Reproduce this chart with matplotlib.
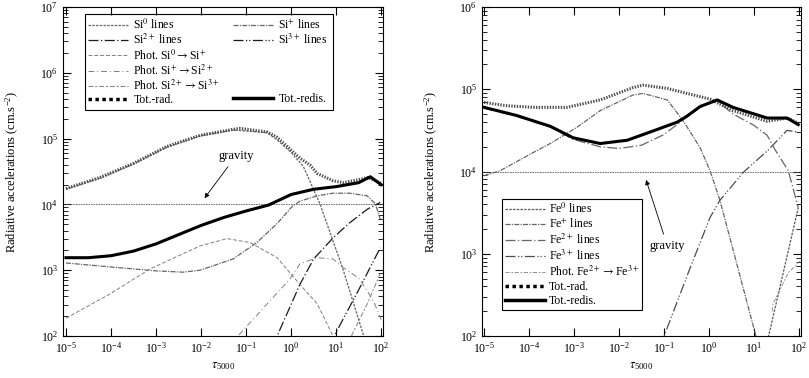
import numpy as np
import matplotlib
matplotlib.use('Agg')
import matplotlib.pyplot as plt
from matplotlib.lines import Line2D
from matplotlib.patches import Rectangle
from matplotlib.ticker import LogLocator, NullLocator, NullFormatter, LogFormatterSciNotation

plt.rcParams['font.family'] = ['Liberation Serif', 'DejaVu Serif']
plt.rcParams['mathtext.fontset'] = 'stix'
plt.rcParams['font.size'] = 8

# ---- Si panel (log10 tau, log10 g_rad) ----
si_rad_t = [-5.0, -4.24, -3.51, -2.76, -2.02, -1.29, -1.13, -0.53, -0.31, 0.2, 0.42, 0.58, 0.93, 1.16, 1.53, 1.71, 2.0]
si_rad_g = [4.24, 4.41, 4.62, 4.88, 5.05, 5.14, 5.155, 5.10, 5.02, 4.70, 4.60, 4.47, 4.36, 4.33, 4.38, 4.41, 4.32]
si_redis_t = [-5.0, -4.5, -4.0, -3.5, -3.0, -2.5, -2.0, -1.5, -1.0, -0.5, 0.0, 0.5, 1.0, 1.5, 1.76, 2.0]
si_redis_g = [3.19, 3.19, 3.22, 3.29, 3.40, 3.54, 3.68, 3.80, 3.90, 3.99, 4.15, 4.23, 4.27, 4.33, 4.42, 4.30]
si0_t = [-5.0, -4.24, -3.51, -2.76, -2.02, -1.29, -0.53, -0.31, 0.0, 0.27, 0.64, 1.16, 1.6, 1.7]
si0_g = [4.23, 4.40, 4.61, 4.87, 5.04, 5.13, 5.09, 4.98, 4.79, 4.58, 4.01, 3.0, 2.03, 1.85]
si1_t = [-5.0, -4.02, -3.0, -2.4, -2.02, -1.29, -0.76, -0.31, 0.04, 0.2, 0.58, 0.93, 1.3, 1.69, 1.87, 1.98]
si1_g = [3.11, 3.05, 2.99, 2.97, 3.0, 3.17, 3.42, 3.71, 3.98, 4.05, 4.13, 4.17, 4.17, 4.13, 4.01, 3.78]
si2_t = [-0.4, -0.31, 0.2, 0.5, 0.93, 1.3, 1.7, 1.98]
si2_g = [1.85, 2.0, 2.79, 3.17, 3.49, 3.72, 3.93, 4.03]
si3_t = [0.9, 0.98, 1.5, 1.98]
si3_g = [1.85, 2.03, 2.7, 3.34]
ph01_t = [-5.0, -4.02, -3.13, -2.02, -1.42, -0.91, -0.31, 0.2, 0.58, 0.91, 1.0]
ph01_g = [2.27, 2.64, 3.02, 3.37, 3.48, 3.42, 3.19, 2.78, 2.49, 2.03, 1.85]
ph12_t = [-1.3, -1.18, -0.53, -0.02, 0.2, 0.58, 0.93, 1.16, 1.5, 1.69, 1.85, 2.0]
ph12_g = [1.85, 2.0, 2.49, 2.87, 3.1, 3.19, 3.17, 3.04, 2.88, 2.69, 2.5, 2.25]
ph23_t = [1.25, 1.36, 1.7, 1.98]
ph23_g = [1.85, 2.03, 2.5, 2.95]

# ---- Fe panel ----
fe_rad_t = [-5.0, -4.5, -3.91, -3.16, -2.42, -1.69, -1.47, -0.93, -0.42, 0.02, 0.53, 1.29, 1.73, 1.98]
fe_rad_g = [4.84, 4.80, 4.78, 4.78, 4.87, 5.02, 5.05, 5.01, 4.94, 4.88, 4.74, 4.61, 4.65, 4.59]
fe_redis_t = [-5.0, -4.27, -3.53, -3.02, -2.42, -1.82, -1.31, -0.71, -0.5, -0.2, 0.18, 0.53, 1.29, 1.73, 1.98]
fe_redis_g = [4.78, 4.68, 4.55, 4.41, 4.34, 4.38, 4.48, 4.60, 4.67, 4.79, 4.87, 4.78, 4.65, 4.65, 4.57]
fe0_t = [1.25, 1.33, 1.58, 1.98]
fe0_g = [1.85, 2.02, 2.61, 3.56]
fe1_t = [-5.0, -4.64, -3.91, -3.53, -2.93, -2.42, -1.69, -1.47, -0.93, -0.58, -0.2, 0.02, 0.24, 1.04, 1.1]
fe1_g = [3.95, 4.01, 4.23, 4.34, 4.54, 4.74, 4.93, 4.95, 4.87, 4.62, 4.29, 4.01, 3.65, 2.0, 1.9]
fe2_t = [-5.0, -4.27, -3.53, -3.02, -2.42, -2.0, -1.5, -1.0, -0.5, -0.2, 0.18, 0.53, 1.0, 1.29, 1.47, 1.76, 1.98]
fe2_g = [4.77, 4.67, 4.54, 4.39, 4.30, 4.28, 4.32, 4.45, 4.66, 4.78, 4.86, 4.70, 4.56, 4.44, 4.26, 4.01, 3.56]
fe3_t = [-1.1, -1.0, -0.42, 0.02, 0.24, 0.76, 1.31, 1.73, 1.98]
fe3_g = [1.86, 2.0, 2.83, 3.44, 3.65, 3.99, 4.26, 4.5, 4.48]
ph_fe_t = [1.40, 1.42, 1.76, 2.02]
ph_fe_g = [2.30, 2.39, 2.77, 2.91]

gravity = 1e4
x_ticks = [1e-5, 1e-4, 1e-3, 1e-2, 1e-1, 1e0, 1e1, 1e2]
y_ticks_si = [1e2, 1e3, 1e4, 1e5, 1e6, 1e7]
y_ticks_fe = [1e2, 1e3, 1e4, 1e5, 1e6]


def p(ax, t, g, **kw):
    return ax.plot(10 ** np.array(t), 10 ** np.array(g), **kw)[0]


def style_axes(ax, yticks, xmin):
    ax.set_xscale('log')
    ax.set_yscale('log')
    ax.set_xlim(xmin, 110)
    ax.set_ylim(yticks[0], yticks[-1])
    ax.set_xticks(x_ticks)
    ax.set_yticks(yticks)
    ax.xaxis.set_major_formatter(LogFormatterSciNotation())
    ax.yaxis.set_major_formatter(LogFormatterSciNotation())
    ax.xaxis.set_minor_locator(NullLocator())
    ax.yaxis.set_minor_locator(LogLocator(base=10, subs=np.arange(2, 10), numticks=20))
    ax.yaxis.set_minor_formatter(NullFormatter())
    ax.tick_params(which='both', direction='in', top=True, right=True, labelsize=8.5)
    ax.tick_params(which='major', length=6, width=0.8)
    ax.tick_params(which='minor', length=3.5, width=0.6)
    for s in ax.spines.values():
        s.set_linewidth(0.8)
    ax.set_xlabel(r'$\tau_{\mathregular{5000}}$', fontsize=9, labelpad=3)
    ax.set_ylabel(r'Radiative accelerations (cm.s$^{\mathregular{-2}}$)', fontsize=9, labelpad=14)
    ax.axhline(gravity, color='0.35', lw=0.6, ls=(0, (2, 1)))


fig = plt.figure(figsize=(8.09, 3.78), dpi=100)
ax1 = fig.add_axes([63 / 809, 42 / 378, 320 / 809, 329 / 378])
ax2 = fig.add_axes([482 / 809, 42 / 378, 319 / 809, 329 / 378])

# ---- left: silicon ----
style_axes(ax1, y_ticks_si, 8.6e-6)
l_si0 = p(ax1, si0_t, si0_g, color='0.4', lw=0.9, ls=(0, (2, 1)), label=r'Si$^{0}$ lines')
l_si1 = p(ax1, si1_t, si1_g, color='0.4', lw=0.9, ls=(0, (4, 1, 1, 1)), label=r'Si$^{+}$ lines')
l_si2 = p(ax1, si2_t, si2_g, color='0.1', lw=0.9, ls=(0, (8, 2, 1, 2)), label=r'Si$^{2+}$ lines')
l_si3 = p(ax1, si3_t, si3_g, color='0.1', lw=0.9, ls=(0, (8, 2, 1, 1.5, 1, 2)), label=r'Si$^{3+}$ lines')
l_p01 = p(ax1, ph01_t, ph01_g, color='0.5', lw=0.7, ls=(0, (4, 2)), label=r'Phot. Si$^{0}$$\rightarrow$Si$^{+}$')
l_p12 = p(ax1, ph12_t, ph12_g, color='0.5', lw=0.7, ls=(0, (6, 3, 1, 3)), label=r'Phot. Si$^{+}$$\rightarrow$Si$^{2+}$')
l_p23 = p(ax1, ph23_t, ph23_g, color='0.5', lw=0.7, ls=(0, (5, 2, 2, 2)), label=r'Phot. Si$^{2+}$$\rightarrow$Si$^{3+}$')
p(ax1, si_rad_t, si_rad_g, color='0.3', lw=2.2, ls=(0, (0.45, 0.45)))
p(ax1, si_redis_t, si_redis_g, color='black', lw=2.2)

rad_proxy = Line2D([], [], color='black', lw=2.5, ls=(0, (1, 1)), label='Tot.-rad.')
redis_proxy = Line2D([], [], color='black', lw=2.5, label='Tot.-redis.')
blank = Line2D([], [], color='none')

ax1.add_patch(Rectangle((22 / 320, 225 / 328), 248 / 320, 96 / 328, transform=ax1.transAxes,
                        fill=False, edgecolor='black', lw=0.8, zorder=5))
kw = dict(frameon=False, loc='upper left', borderaxespad=0, borderpad=0, handlelength=3.4,
          handletextpad=0.45, labelspacing=0.07, fontsize=8.5)
leg1 = ax1.legend([l_si0, l_si2, l_p01, l_p12, l_p23, rad_proxy],
                  [h.get_label() for h in [l_si0, l_si2, l_p01, l_p12, l_p23, rad_proxy]],
                  bbox_to_anchor=(25 / 320, 317 / 328), **kw)
ax1.add_artist(leg1)
leg1b = ax1.legend([l_si1, l_si3, blank, blank, blank, redis_proxy],
                   [l_si1.get_label(), l_si3.get_label(), l_p01.get_label(), l_p12.get_label(),
                    l_p23.get_label(), 'Tot.-redis.'],
                   bbox_to_anchor=(170 / 320, 317 / 328), **kw)
for i in (2, 3, 4):
    leg1b.get_texts()[i].set_color('none')

ax1.annotate('gravity', xy=(10 ** -1.96, 10 ** 4.06), xytext=(10 ** -1.22, 10 ** 4.74),
             ha='center', va='center', fontsize=9,
             arrowprops=dict(arrowstyle='-|>', lw=0.6, color='black', mutation_scale=7))

# ---- right: iron ----
style_axes(ax2, y_ticks_fe, 9.0e-6)
l_fe0 = p(ax2, fe0_t, fe0_g, color='0.35', lw=0.9, ls=(0, (2, 1)), label=r'Fe$^{0}$ lines')
l_fe1 = p(ax2, fe1_t, fe1_g, color='0.4', lw=0.9, ls=(0, (4, 1, 1, 1)), label=r'Fe$^{+}$ lines')
l_fe2 = p(ax2, fe2_t, fe2_g, color='0.4', lw=0.9, ls=(0, (8, 2, 1, 2)), label=r'Fe$^{2+}$ lines')
l_fe3 = p(ax2, fe3_t, fe3_g, color='0.3', lw=0.9, ls=(0, (8, 2, 1, 1.5, 1, 2)), label=r'Fe$^{3+}$ lines')
l_pfe = p(ax2, ph_fe_t, ph_fe_g, color='0.5', lw=0.6, ls=(0, (5, 2, 2, 2)), label=r'Phot. Fe$^{2+}$$\rightarrow$Fe$^{3+}$')
p(ax2, fe_rad_t, fe_rad_g, color='0.3', lw=2.2, ls=(0, (0.45, 0.45)))
p(ax2, fe_redis_t, fe_redis_g, color='black', lw=2.2)

leg2 = ax2.legend([l_fe0, l_fe1, l_fe2, l_fe3, l_pfe, rad_proxy, redis_proxy],
                  [l_fe0.get_label(), l_fe1.get_label(), l_fe2.get_label(), l_fe3.get_label(),
                   l_pfe.get_label(), 'Tot.-rad.', 'Tot.-redis.'],
                  loc='upper left', bbox_to_anchor=(20 / 319, 137 / 328), borderaxespad=0,
                  borderpad=0.25, handlelength=3.4, handletextpad=0.3, labelspacing=0.15,
                  fontsize=8.5, fancybox=False, edgecolor='black', framealpha=1)
leg2.get_frame().set_linewidth(0.8)

ax2.annotate('gravity', xy=(10 ** -1.42, 10 ** 3.93), xytext=(10 ** -0.93, 10 ** 3.10),
             ha='center', va='center', fontsize=9,
             arrowprops=dict(arrowstyle='-|>', lw=0.6, color='black', mutation_scale=7))

fig.savefig('out.png', dpi=100)
